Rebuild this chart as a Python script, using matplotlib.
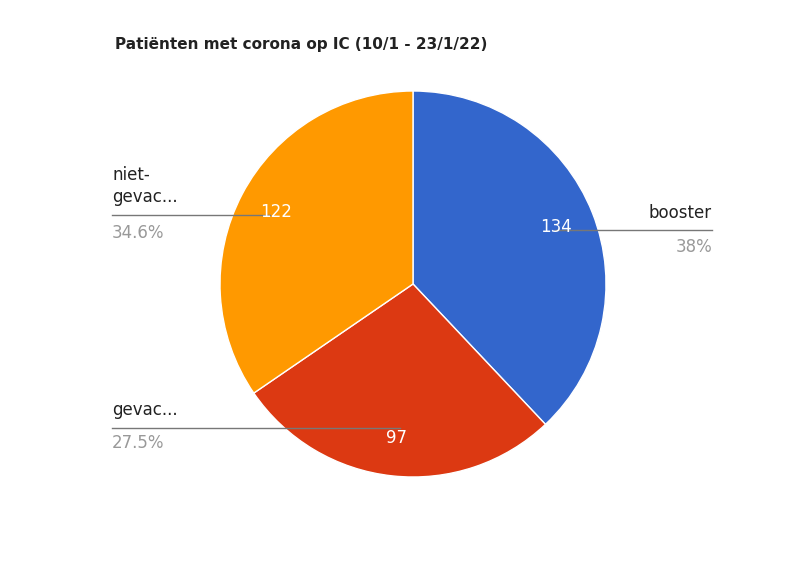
import matplotlib.pyplot as plt

labels = ["booster", "gevac...", "niet-\ngevac..."]
values = [134, 97, 122]
colors = ["#3366cc", "#dc3912", "#ff9900"]
total = sum(values)

fig = plt.figure(figsize=(8, 5.75), dpi=100)
ax = fig.add_axes([0, 0, 1, 1])
ax.set_xlim(0, 800)
ax.set_ylim(0, 575)
ax.set_aspect("equal")
ax.axis("off")

H = 575
wedges, texts, autotexts = ax.pie(
    values, colors=colors, startangle=90, counterclock=False,
    center=(413, H - 284), radius=193, frame=True,
    wedgeprops=dict(edgecolor="white", linewidth=1),
    autopct=lambda p: f"{round(p * total / 100):d}", pctdistance=0.8,
    textprops=dict(color="white", fontsize=12),
)
ax.set_xlim(0, 800)
ax.set_ylim(0, 575)
ax.axis("off")

# outside labels with leader lines (label text, percent, line y, line x range)
pcts = [f"{v / total * 100:.3g}%" for v in values]
ax.text(712, H - 213, labels[0], ha="right", va="center", fontsize=12, color="#222222")
ax.text(712, H - 247, pcts[0], ha="right", va="center", fontsize=12, color="#999999")
ax.plot([555, 712], [H - 230, H - 230], color="#777777", lw=1)

ax.text(112, H - 186, labels[2], ha="left", va="center", fontsize=12, color="#222222", linespacing=1.3)
ax.text(112, H - 233, pcts[2], ha="left", va="center", fontsize=12, color="#999999")
ax.plot([112, 270], [H - 215, H - 215], color="#777777", lw=1)

ax.text(112, H - 410, labels[1], ha="left", va="center", fontsize=12, color="#222222")
ax.text(112, H - 443, pcts[1], ha="left", va="center", fontsize=12, color="#999999")
ax.plot([112, 400], [H - 428, H - 428], color="#777777", lw=1)

ax.text(115, H - 45, "Patiënten met corona op IC (10/1 - 23/1/22)", ha="left", va="center",
        fontsize=11, fontweight="bold", color="#222222")

fig.savefig("out.png", dpi=100)
